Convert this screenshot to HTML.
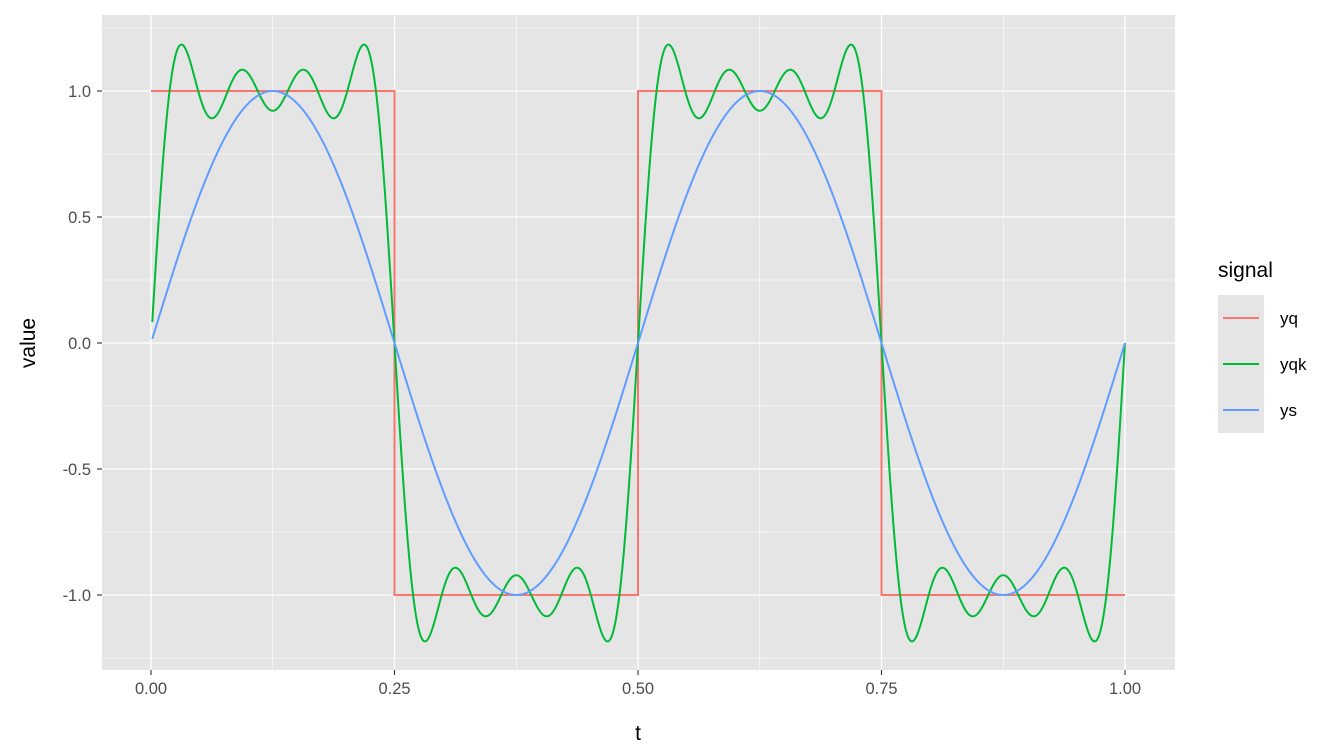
<!DOCTYPE html>
<html><head><meta charset="utf-8"><style>
body{margin:0;background:#fff}
svg{display:block;font-family:"Liberation Sans",Arial,sans-serif}
</style></head><body>
<svg id="s" width="1344" height="756" viewBox="0 0 1344 756">
<rect x="102" y="15" width="1073" height="655" fill="#e5e5e5"/>
<g id="grid"></g>
<g id="lines" fill="none" stroke-width="2"></g>
<g font-size="16.5" fill="#4d4d4d" text-anchor="end">
<text x="91" y="97">1.0</text><text x="91" y="223">0.5</text><text x="91" y="349">0.0</text>
<text x="91" y="475">-0.5</text><text x="91" y="601">-1.0</text>
</g>
<g stroke="#333" stroke-width="1.1">
<line x1="97" x2="102" y1="91" y2="91"/><line x1="97" x2="102" y1="217" y2="217"/><line x1="97" x2="102" y1="343" y2="343"/><line x1="97" x2="102" y1="469" y2="469"/><line x1="97" x2="102" y1="595" y2="595"/>
<line y1="670" y2="675" x1="151" x2="151"/><line y1="670" y2="675" x1="394.5" x2="394.5"/><line y1="670" y2="675" x1="638" x2="638"/><line y1="670" y2="675" x1="881.5" x2="881.5"/><line y1="670" y2="675" x1="1125" x2="1125"/>
</g>
<g font-size="16.5" fill="#4d4d4d" text-anchor="middle">
<text x="151" y="694">0.00</text><text x="394.5" y="694">0.25</text><text x="638" y="694">0.50</text><text x="881.5" y="694">0.75</text><text x="1125" y="694">1.00</text>
</g>
<text x="638" y="740" font-size="21" text-anchor="middle">t</text>
<text transform="translate(35,343) rotate(-90)" font-size="21" text-anchor="middle">value</text>
<text x="1218" y="277" font-size="21">signal</text>
<rect x="1218" y="295" width="46" height="138" fill="#e5e5e5"/>
<line x1="1223" x2="1259" y1="318" y2="318" stroke="#F8766D" stroke-width="2"/>
<line x1="1223" x2="1259" y1="364" y2="364" stroke="#00BA38" stroke-width="2"/>
<line x1="1223" x2="1259" y1="410" y2="410" stroke="#619CFF" stroke-width="2"/>
<g font-size="17" fill="#000"><text x="1280" y="324">yq</text><text x="1280" y="370">yqk</text><text x="1280" y="416">ys</text></g>
</svg>
<script>
var X=t=>151+t*974, Y=v=>343-v*252;
var g=document.getElementById('grid'),h='';
[-1.25,-0.75,-0.25,0.25,0.75,1.25].forEach(v=>h+=`<line x1="102" x2="1175" y1="${Y(v)}" y2="${Y(v)}" stroke="#fff" stroke-width="0.6"/>`);
[0.125,0.375,0.625,0.875].forEach(t=>h+=`<line y1="15" y2="670" x1="${X(t)}" x2="${X(t)}" stroke="#fff" stroke-width="0.6"/>`);
[-1,-0.5,0,0.5,1].forEach(v=>h+=`<line x1="102" x2="1175" y1="${Y(v)}" y2="${Y(v)}" stroke="#fff" stroke-width="1.3"/>`);
[0,0.25,0.5,0.75,1].forEach(t=>h+=`<line y1="15" y2="670" x1="${X(t)}" x2="${X(t)}" stroke="#fff" stroke-width="1.3"/>`);
g.innerHTML=h;
var red='M'+X(0)+','+Y(1)+' H'+X(0.25)+' V'+Y(-1)+' H'+X(0.5)+' V'+Y(1)+' H'+X(0.75)+' V'+Y(-1)+' H'+X(1);
var gr='',bl='';
for(var i=0;i<=2000;i++){var t=0.0013+(1-0.0013)*i/2000,w=4*Math.PI*t;
var q=4/Math.PI*(Math.sin(w)+Math.sin(3*w)/3+Math.sin(5*w)/5+Math.sin(7*w)/7);
gr+=(i?'L':'M')+X(t).toFixed(2)+','+Y(q).toFixed(2);
bl+=(i?'L':'M')+X(t).toFixed(2)+','+Y(Math.sin(w)).toFixed(2);}
document.getElementById('lines').innerHTML=`<path d="${red}" stroke="#F8766D"/><path d="${gr}" stroke="#00BA38"/><path d="${bl}" stroke="#619CFF"/>`;
</script>
</body></html>
